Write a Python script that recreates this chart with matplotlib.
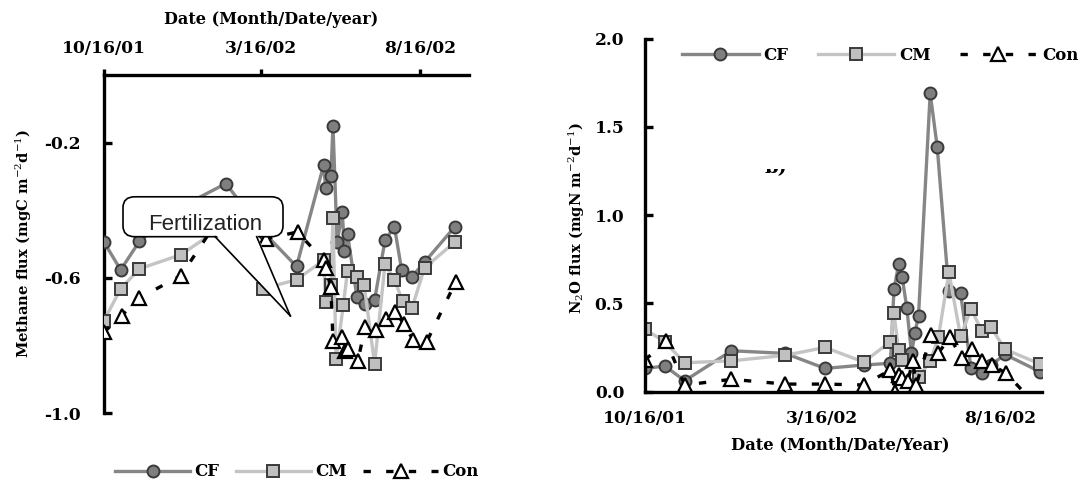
import matplotlib
matplotlib.use('Agg')
import matplotlib.pyplot as plt
from matplotlib.patches import FancyBboxPatch, Polygon
from matplotlib.lines import Line2D
from matplotlib.transforms import Bbox

# ---------------- data (days since 10/16/01) ----------------
tick_days = [0, 151, 304]
tick_labels = ['10/16/01', '3/16/02', '8/16/02']

# Methane flux (left panel)
ch4_cf_days = [0, 16, 34, 74, 117, 155, 185, 211, 213, 218, 220, 224, 229, 231, 234,
               243, 251, 260, 270, 279, 286, 296, 308, 337]
ch4_cf = [-0.494, -0.576, -0.492, -0.39, -0.321, -0.47, -0.566, -0.267, -0.333, -0.299,
          -0.150, -0.494, -0.405, -0.521, -0.471, -0.655, -0.677, -0.665, -0.489, -0.448,
          -0.576, -0.596, -0.553, -0.449]

ch4_cm_days = [0, 16, 34, 74, 117, 153, 185, 211, 213, 218, 220, 223, 230, 234, 243,
               250, 260, 270, 279, 287, 296, 308, 337]
ch4_cm = [-0.726, -0.632, -0.573, -0.531, -0.441, -0.632, -0.605, -0.548, -0.672, -0.622,
          -0.422, -0.840, -0.679, -0.578, -0.596, -0.622, -0.854, -0.560, -0.605, -0.669,
          -0.688, -0.570, -0.494]

ch4_con_days = [0, 17, 34, 74, 117, 156, 186, 211, 213, 218, 220, 229, 232, 234, 244,
                251, 261, 271, 280, 288, 297, 310, 338]
ch4_con = [-0.76, -0.711, -0.659, -0.593, -0.394, -0.484, -0.464, -0.548, -0.57, -0.627,
           -0.785, -0.775, -0.815, -0.81, -0.844, -0.744, -0.755, -0.721, -0.70, -0.735,
           -0.783, -0.789, -0.611]

# N2O flux (right panel)
n2o_cf_days = [0, 17, 34, 74, 120, 154, 187, 210, 213, 217, 220, 224, 228, 231, 234,
               244, 250, 260, 270, 279, 288, 296, 308, 338]
n2o_cf = [0.131, 0.144, 0.061, 0.231, 0.216, 0.131, 0.15, 0.16, 0.58, 0.72, 0.65, 0.474,
          0.216, 0.333, 0.43, 1.69, 1.387, 0.567, 0.557, 0.131, 0.105, 0.15, 0.21, 0.112]

n2o_cm_days = [0, 17, 34, 74, 120, 154, 187, 210, 213, 217, 220, 234, 244, 251, 260,
               270, 279, 288, 296, 308, 338]
n2o_cm = [0.354, 0.28, 0.163, 0.174, 0.205, 0.25, 0.167, 0.282, 0.444, 0.233, 0.178,
          0.08, 0.172, 0.307, 0.676, 0.312, 0.47, 0.343, 0.365, 0.239, 0.156]

n2o_con_days = [0, 18, 34, 74, 120, 154, 187, 210, 214, 217, 220, 225, 229, 232, 245,
                251, 261, 271, 280, 288, 297, 309, 325]
n2o_con = [0.178, 0.287, 0.037, 0.069, 0.042, 0.042, 0.037, 0.122, 0.0, 0.093, 0.075,
           0.061, 0.174, 0.037, 0.32, 0.219, 0.307, 0.188, 0.239, 0.174, 0.15, 0.103, -0.01]

series_names = ['CF', 'CM', 'Con']

# ---------------- style ----------------
W, H = 1080, 484
SERIF = 'DejaVu Serif'
plt.rcParams['font.family'] = SERIF
plt.rcParams['mathtext.fontset'] = 'dejavuserif'
plt.rcParams['axes.unicode_minus'] = False

CF_LINE = '#868686'
CF_FACE = '#7f7f7f'
CM_LINE = '#c4c4c4'
CM_FACE = '#c0c0c0'
EDGE = '#3a3a3a'
LW = 2.4
DASH = (0, (2.2, 4.6))

cf_style = dict(color=CF_LINE, lw=LW, marker='o', ms=8.6, mfc=CF_FACE, mec=EDGE, mew=1.4)
cm_style = dict(color=CM_LINE, lw=LW, marker='s', ms=8.4, mfc=CM_FACE, mec=EDGE, mew=1.4)
con_style = dict(color='black', lw=LW, ls=DASH, marker='^', ms=9.8, mfc='white',
                 mec='black', mew=1.6)

fig = plt.figure(figsize=(W / 100, H / 100), dpi=100)


def px_axes(x0, y0, x1, y1):
    return fig.add_axes([x0 / W, 1 - y1 / H, (x1 - x0) / W, (y1 - y0) / H])


tick_font = dict(family=SERIF, weight='bold', size=12.3)

# ---------------- left panel: methane ----------------
ax1 = px_axes(104, 75, 469.3, 413.3)
ax1.plot(ch4_cf_days, ch4_cf, zorder=3, **cf_style)
ax1.plot(ch4_cm_days, ch4_cm, zorder=4, **cm_style)
ax1.plot(ch4_con_days, ch4_con, zorder=5, **con_style)
ax1.set_xlim(0, 351)
ax1.set_ylim(-1.0, 0.0)
for s in ['bottom', 'right']:
    ax1.spines[s].set_visible(False)
for s in ['top', 'left']:
    ax1.spines[s].set_linewidth(LW)
    ax1.spines[s].set_color('black')
ax1.xaxis.tick_top()
ax1.set_xticks(tick_days)
ax1.set_xticklabels(tick_labels, fontdict=tick_font)
ax1.set_yticks([-1.0, -0.6, -0.2])
ax1.set_yticklabels(['-1.0', '-0.6', '-0.2'], fontdict=tick_font)
ax1.tick_params(axis='x', direction='out', length=4, width=LW, pad=9)
ax1.tick_params(axis='y', direction='in', length=6, width=LW, pad=17)

fig.text(271 / W, 1 - 20 / H, 'Date (Month/Date/year)', ha='center', va='center',
         fontsize=11.6, fontweight='bold', family=SERIF)
fig.text(24 / W, 1 - 243 / H, r'Methane flux (mgC m$^{-2}$d$^{-1}$)', rotation=90,
         ha='center', va='center', fontsize=10.6, fontweight='bold', family=SERIF)

# Fertilization callout (axes fraction)
box = FancyBboxPatch((0.052, 0.522), 0.438, 0.118,
                     boxstyle='round,pad=0,rounding_size=0.032',
                     transform=ax1.transAxes, facecolor='white', edgecolor='black',
                     lw=1.2, zorder=10, clip_on=False)
ax1.add_patch(box)
tail = Polygon([(0.304, 0.530), (0.510, 0.288), (0.418, 0.530)], closed=True,
               transform=ax1.transAxes, facecolor='white', edgecolor='none', zorder=11)
ax1.add_patch(tail)
for (xa, ya) in [(0.304, 0.522), (0.418, 0.522)]:
    ax1.add_line(Line2D([xa, 0.510], [ya, 0.288], transform=ax1.transAxes,
                        color='black', lw=1.2, zorder=12))
ax1.text(0.276, 0.557, 'Fertilization', transform=ax1.transAxes, ha='center',
         va='center', fontsize=16, family='Liberation Sans', color='#222222', zorder=13)

# legend for left panel
h_cf = Line2D([], [], **cf_style)
h_cm = Line2D([], [], **cm_style)
h_con = Line2D([], [], **con_style)
fig.legend([h_cf, h_cm, h_con], series_names, loc='center',
           bbox_to_anchor=(297 / W, 1 - 472 / H), ncol=3, frameon=False,
           handlelength=4.5, handletextpad=0.25, columnspacing=1.0,
           prop=dict(family=SERIF, weight='bold', size=12))

# ---------------- right panel: N2O ----------------
ax2 = px_axes(645, 38.7, 1041.7, 391.5)
ax2.plot(n2o_cf_days, n2o_cf, zorder=3, **cf_style)
ax2.plot(n2o_cm_days, n2o_cm, zorder=4, **cm_style)
ax2.plot(n2o_con_days, n2o_con, zorder=5, markevery=list(range(len(n2o_con) - 1)),
         **con_style)
ax2.set_xlim(0, 339.4)
ax2.set_ylim(0, 2.0)
for s in ['top', 'right']:
    ax2.spines[s].set_visible(False)
for s in ['bottom', 'left']:
    ax2.spines[s].set_linewidth(LW)
    ax2.spines[s].set_color('black')
    ax2.spines[s].set_zorder(6)
ax2.set_xticks(tick_days)
ax2.set_xticklabels(tick_labels, fontdict=tick_font)
ax2.set_yticks([0, 0.5, 1.0, 1.5, 2.0])
ax2.set_yticklabels(['0.0', '0.5', '1.0', '1.5', '2.0'], fontdict=tick_font)
ax2.tick_params(axis='x', length=0, pad=13)
ax2.tick_params(axis='y', direction='in', length=6, width=LW, pad=15)

fig.text(840 / W, 1 - 445 / H, 'Date (Month/Date/Year)', ha='center', va='center',
         fontsize=11.8, fontweight='bold', family=SERIF)
fig.text(577 / W, 1 - 218 / H, r'N$_2$O flux (mgN m$^{-2}$d$^{-1}$)', rotation=90,
         ha='center', va='center', fontsize=10.6, fontweight='bold', family=SERIF)

fig.legend([h_cf, h_cm, h_con], series_names, loc='center',
           bbox_to_anchor=(880 / W, 1 - 55 / H), ncol=3, frameon=False,
           handlelength=4.6, handletextpad=0.3, columnspacing=1.75,
           prop=dict(family=SERIF, weight='bold', size=12))

# clipped remnant of a panel tag
frag = fig.text(776 / W, 1 - 168 / H, 'b)', ha='center', va='center', fontsize=14,
                family=SERIF, weight='bold')
frag.set_clip_box(Bbox([[755, H - 176], [795, H - 169]]))
frag.set_clip_on(True)

fig.savefig('out.png', dpi=100)
